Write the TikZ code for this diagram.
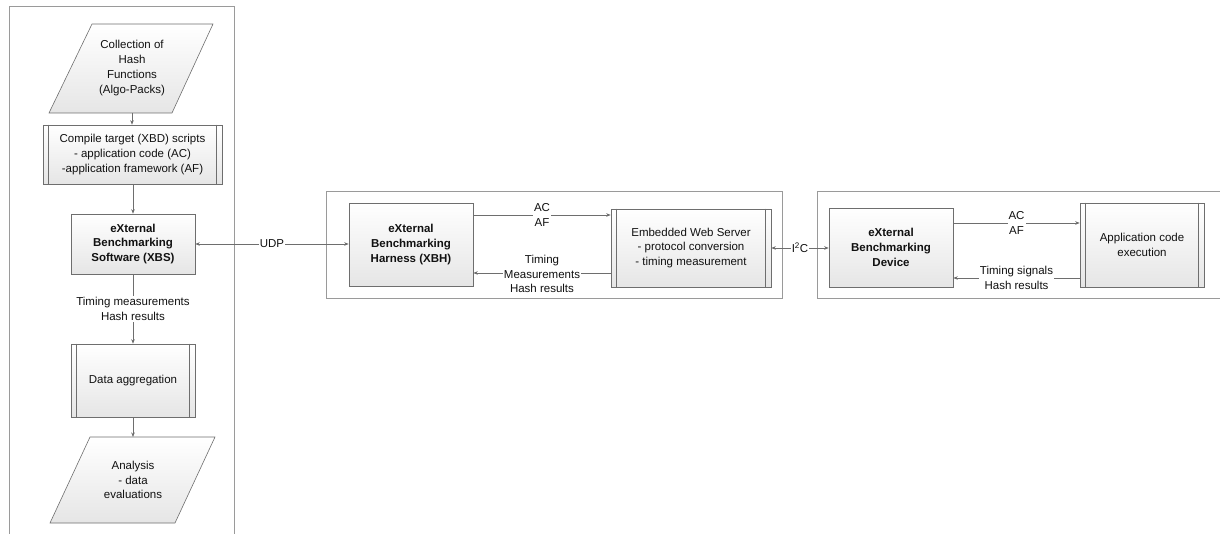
\documentclass[tikz,border=0pt]{standalone}
\usepackage{fontspec}
\setmainfont{Liberation Sans}
\usetikzlibrary{arrows.meta,shapes.geometric}
\definecolor{edge}{HTML}{6E6E6E}
\definecolor{frame}{HTML}{9A9A9A}
\definecolor{ink}{HTML}{111111}
\begin{document}
\begin{tikzpicture}[x=1pt,y=-1pt,
  every node/.style={font=\fontsize{11.5}{14.8}\selectfont, text=ink, align=center},
  boldtext/.style={font=\fontsize{11.5}{14.8}\selectfont\bfseries},
  boxstyle/.style={draw=edge, line width=0.6pt, top color=white, bottom color=black!10},
  procbox/.style={boxstyle, rectangle, inner sep=0pt},
  framebox/.style={draw=frame, line width=0.8pt},
  link/.style={draw=edge, line width=0.6pt, -{Stealth[length=4.5pt,width=3.5pt]}},
  biglink/.style={draw=edge, line width=0.6pt, {Stealth[length=4.5pt,width=3.5pt]}-{Stealth[length=4.5pt,width=3.5pt]}},
  lbl/.style={fill=white, inner sep=1pt}
]
\useasboundingbox (0,0) rectangle (1220,534);
\begin{scope}
\clip (0,0) rectangle (1220,534);

% enclosing frames
\draw[framebox] (9,540) -- (9,6) -- (234,6) -- (234,540);
\draw[framebox] (326,191) rectangle (782,298);
\draw[framebox] (1230,191) -- (817,191) -- (817,298) -- (1230,298);

% left column: input data and processing chain
\draw[boxstyle] (49,113) -- (92,24) -- (213,24) -- (172,113) -- cycle;
\node (hash) at (132,68) {Collection of\\Hash\\Functions\\(Algo-Packs)};
\coordinate (hashb) at (132,113);

\node[procbox, minimum width=179pt, minimum height=59pt] (comp) at (132.5,154.5) {};
\draw[edge, line width=0.6pt] ([xshift=6pt]comp.north west) -- ([xshift=6pt]comp.south west)
  ([xshift=-6pt]comp.north east) -- ([xshift=-6pt]comp.south east);
\node at (comp) {Compile target (XBD) scripts\\- application code (AC)\\-application framework (AF)};

\node[procbox, boldtext, minimum width=124pt, minimum height=60pt] (xbs) at (133,244) {eXternal\\Benchmarking\\Software (XBS)};

\node[procbox, minimum width=124pt, minimum height=73pt] (agg) at (133,380.5) {};
\draw[edge, line width=0.6pt] ([xshift=6pt]agg.north west) -- ([xshift=6pt]agg.south west)
  ([xshift=-6pt]agg.north east) -- ([xshift=-6pt]agg.south east);
\node at (agg) {Data aggregation};

\draw[boxstyle] (50,523) -- (90,437) -- (215,437) -- (175,523) -- cycle;
\coordinate (anat) at (133,437);
\node (ana) at (133,480) {Analysis\\- data\\evaluations};

\draw[link] (hashb) -- (comp.north -| hashb);
\draw[link] (comp.south -| xbs.north) -- (xbs.north);
\draw[link] (xbs.south) -- (agg.north) node[midway, lbl] {Timing measurements\\Hash results};
\draw[link] (agg.south) -- (anat);

% harness
\node[procbox, boldtext, minimum width=124pt, minimum height=83pt] (xbh) at (411,244.5) {eXternal\\Benchmarking\\Harness (XBH)};
\node[procbox, minimum width=160pt, minimum height=78pt] (ews) at (691,248) {};
\draw[edge, line width=0.6pt] ([xshift=6pt]ews.north west) -- ([xshift=6pt]ews.south west)
  ([xshift=-6pt]ews.north east) -- ([xshift=-6pt]ews.south east);
\node at (ews) {Embedded Web Server\\- protocol conversion\\- timing measurement};

\draw[link] (xbh.east |- 0,215) -- (ews.west |- 0,215) node[pos=0.5, lbl] {AC\\AF};
\draw[link] (ews.west |- 0,273) -- (xbh.east |- 0,273) node[pos=0.5, lbl, yshift=-1pt] {Timing\\Measurements\\Hash results};

% device
\node[procbox, boldtext, minimum width=124pt, minimum height=79pt] (xbd) at (891,247.5) {eXternal\\Benchmarking\\Device};
\node[procbox, minimum width=124pt, minimum height=84pt] (app) at (1142,245) {};
\draw[edge, line width=0.6pt] ([xshift=6pt]app.north west) -- ([xshift=6pt]app.south west)
  ([xshift=-6pt]app.north east) -- ([xshift=-6pt]app.south east);
\node at (app) {Application code\\execution};

\draw[link] (xbd.east |- 0,223) -- (app.west |- 0,223) node[pos=0.5, lbl] {AC\\AF};
\draw[link] (app.west |- 0,278) -- (xbd.east |- 0,278) node[pos=0.5, lbl] {Timing signals\\Hash results};

% interfaces between the three units
\draw[biglink] (xbs.east) -- (xbh.west |- xbs.east) node[pos=0.5, lbl, inner sep=0.5pt] {UDP};
\draw[biglink] (ews.east) -- (xbd.west |- ews.east) node[pos=0.5, lbl, inner sep=0.5pt] {I\textsuperscript{2}C};
\end{scope}
\end{tikzpicture}
\end{document}
